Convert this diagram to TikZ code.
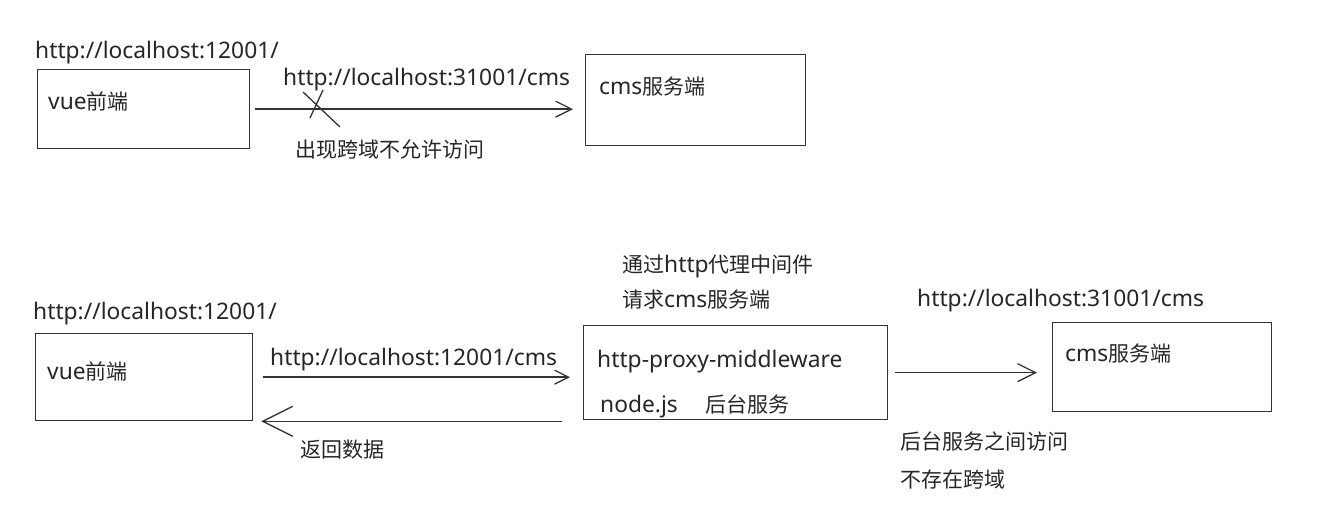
\documentclass[tikz,border=0pt]{standalone}
\usepackage{fontspec}
\setmainfont[Scale=1.085]{Noto Sans}
\newfontfamily\cjk{Noto Sans CJK SC}
\usetikzlibrary{arrows.meta}

\begin{document}
\begin{tikzpicture}[x=1pt,y=-1pt,
    font=\fontsize{21}{24}\selectfont,
    box/.style={draw=black!80, line width=1.3pt, anchor=north west, inner sep=0pt},
    lbl/.style={anchor=west, inner sep=0pt, text height=15pt, text depth=0pt, text=black!85},
    arr/.style={draw=black!80, line width=1.3pt, -{Straight Barb[length=#1pt, width=#1pt]}},
    arr/.default=14]
  \useasboundingbox (0,0) rectangle (1342,526);

  % direct request, blocked
  \node[lbl] (hostA) at (35,51) {http://localhost:12001/};
  \node[box, minimum width=212pt, minimum height=79pt] (vueA) at (37,69) {};
  \node[lbl] (vueAtxt) at (48,102) {vue{\cjk 前端}};
  \node[box, minimum width=220pt, minimum height=91pt] (cmsA) at (585,54) {};
  \node[lbl] (cmsAtxt) at (599,87) {cms{\cjk 服务端}};
  \node[lbl] (urlA) at (283,78) {http://localhost:31001/cms};
  \node[lbl] (denied) at (295,150) {\cjk 出现跨域不允许访问};
  \draw[arr=16] ([xshift=5pt]vueA.east) -- ([xshift=-12pt]vueA.east -| cmsA.west);
  \draw[draw=black!80, line width=1.3pt] (303,92) -- (340,127) (323,90) -- (310,118);

  % through the proxy
  \node[lbl] (hostB) at (33,312) {http://localhost:12001/};
  \node[box, minimum width=217pt, minimum height=87pt] (vueB) at (35,333) {};
  \node[lbl] (vueBtxt) at (47,372) {vue{\cjk 前端}};
  \node[box, minimum width=304pt, minimum height=94pt] (mid) at (583,325) {};
  \node[lbl] (midtxt) at (597,360) {http-proxy-middleware};
  \node[lbl] (nodetxt) at (600,405) {node.js};
  \node[lbl] (backtxt) at (705,405) {\cjk 后台服务};
  \node[lbl] (viaA) at (622,265) {{\cjk 通过}http{\cjk 代理中间件}};
  \node[lbl] (viaB) at (622,300) {{\cjk 请求}cms{\cjk 服务端}};
  \node[lbl] (urlC) at (917,299) {http://localhost:31001/cms};
  \node[box, minimum width=219pt, minimum height=89pt] (cmsB) at (1052,322) {};
  \node[lbl] (cmsBtxt) at (1065,354) {cms{\cjk 服务端}};
  \node[lbl] (urlB) at (270,358) {http://localhost:12001/cms};
  \node[lbl] (backdata) at (300,450) {\cjk 返回数据};
  \node[lbl] (noteA) at (900,442) {\cjk 后台服务之间访问};
  \node[lbl] (noteB) at (900,480) {\cjk 不存在跨域};

  \draw[arr=14] ([xshift=10pt]vueB.east) -- ([xshift=-13pt]vueB.east -| mid.west);
  \draw[arr=30] ([xshift=-21pt]mid.west |- vueB.south east) -- ([xshift=8pt]vueB.south east);
  \draw[arr=18] ([xshift=7pt]mid.east) -- ([xshift=-15pt]mid.east -| cmsB.west);
\end{tikzpicture}
\end{document}
